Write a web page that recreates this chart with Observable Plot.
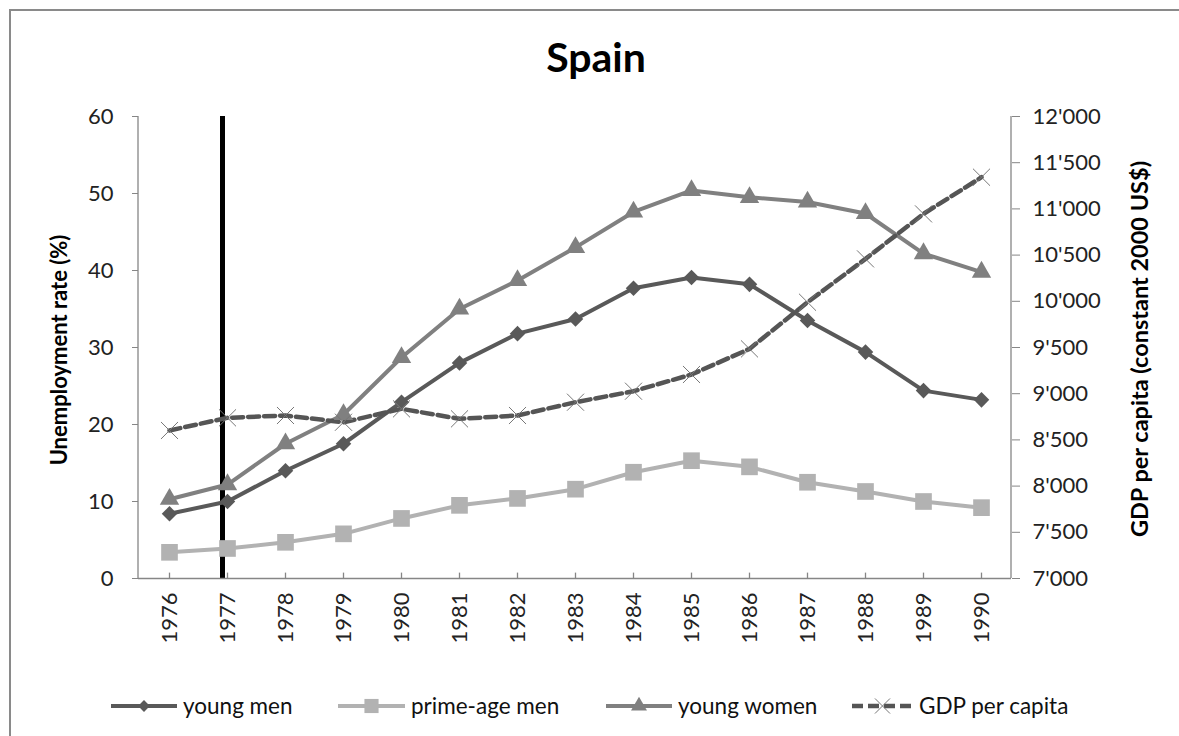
<!DOCTYPE html>
<html><head><meta charset="utf-8">
<script src="https://cdn.jsdelivr.net/npm/d3@7"></script>
<script src="https://cdn.jsdelivr.net/npm/@observablehq/plot@0.6"></script>
<style>
body{margin:0;background:#fff;font-family:Lato,"Open Sans",sans-serif}
#wrap{position:relative;width:1179px;height:736px;overflow:hidden;background:#fff}
#border{position:absolute;left:9px;top:9px;width:1300px;height:900px;border:2px solid #8a8a8a;box-sizing:border-box}
#chart{position:absolute;left:0;top:0}
.title{position:absolute;left:0;width:1192px;top:32px;text-align:center;font-weight:700;font-size:41px;color:#000}
.ylab{position:absolute;white-space:nowrap;font-weight:700;color:#000;transform:translate(-50%,-50%) rotate(-90deg)}
#legend{position:absolute;left:0;top:686px}
</style></head>
<body>
<div id="wrap">
  <div id="border"></div>
  <div id="chart"></div>
  <div class="title">Spain</div>
  <div class="ylab" style="left:58px;top:350px;font-size:22px">Unemployment rate (%)</div>
  <div class="ylab" style="left:1139px;top:349px;font-size:23.5px">GDP per capita (constant 2000 US$)</div>
  <svg id="legend" width="1179" height="40"></svg>
</div>
<script>
const years = [1976,1977,1978,1979,1980,1981,1982,1983,1984,1985,1986,1987,1988,1989,1990];
const youngMen = [8.4,10.0,14.0,17.5,22.9,28.0,31.8,33.7,37.7,39.1,38.2,33.5,29.4,24.4,23.2];
const primeAgeMen = [3.4,3.9,4.7,5.8,7.8,9.5,10.4,11.6,13.8,15.3,14.5,12.5,11.3,10.0,9.2];
const youngWomen = [10.3,12.2,17.5,21.3,28.7,35.0,38.7,43.0,47.6,50.4,49.5,48.9,47.4,42.2,39.8];
const gdpPerCapita = [8602,8739,8764,8691,8836,8728,8764,8908,9027,9208,9485,9990,10459,10946,11343];
const leftTicks = [0,10,20,30,40,50,60];
const rightTicks = [7000,7500,8000,8500,9000,9500,10000,10500,11000,11500,12000];
const markerYear = 1977;

const gMin = 7000, gMax = 12000, yMax = 60;
const toLeft = g => (g - gMin) / (gMax - gMin) * yMax;
const fmtG = n => `${Math.floor(n/1000)}'${String(n%1000).padStart(3,"0")}`;

const rows = (vals, f = v => v) => years.map((yr, i) => ({year: yr, v: f(vals[i])}));
const ym = rows(youngMen), pm = rows(primeAgeMen), yw = rows(youngWomen), gd = rows(gdpPerCapita, toLeft);

const C = {ym:"#595959", pm:"#b2b2b2", yw:"#808080", gd:"#555555", axis:"#868686"};
const FONT = "Lato, 'Open Sans', sans-serif";

const axisLines = (index, scales, values, dims) => {
  const g = d3.create("svg:g").attr("stroke", C.axis).attr("stroke-width", 1.3);
  const x0 = dims.marginLeft, x1 = dims.width - dims.marginRight;
  const y0 = dims.marginTop, y1 = dims.height - dims.marginBottom;
  g.append("line").attr("x1", x0).attr("x2", x0).attr("y1", y0).attr("y2", y1);
  g.append("line").attr("x1", x1).attr("x2", x1).attr("y1", y0).attr("y2", y1);
  return g.node();
};

const chart = Plot.plot({
  width: 1179, height: 736,
  marginLeft: 138, marginRight: 168, marginTop: 116, marginBottom: 158,
  style: {fontFamily: FONT, fontSize: "22px", color: "#222", background: "transparent"},
  x: {type: "point", domain: years, padding: 0.5},
  y: {domain: [0, yMax]},
  marks: [
    Plot.ruleX([markerYear], {x: d => d, y1: 0, y2: yMax, stroke: "#000", strokeWidth: 5, dx: -5}),
    Plot.ruleY([0], {stroke: C.axis, strokeWidth: 1.3}),
    axisLines,
    Plot.ruleX(years, {x: d => d, y1: 0, y2: 0.7, stroke: C.axis, strokeWidth: 1.3}),
    Plot.axisY({anchor: "left", ticks: leftTicks, tickSize: 6, tickPadding: 19, stroke: C.axis, label: null}),
    Plot.axisY({anchor: "right", ticks: rightTicks.map(toLeft), tickFormat: v => fmtG(Math.round(gMin + v / yMax * (gMax - gMin))), tickSize: 8, tickPadding: 13, stroke: C.axis, label: null}),
    Plot.axisX({anchor: "bottom", tickSize: 0, tickPadding: 14, tickRotate: -90, tickFormat: d => String(d), label: null}),
    Plot.line(ym, {x: "year", y: "v", stroke: C.ym, strokeWidth: 4}),
    Plot.line(pm, {x: "year", y: "v", stroke: C.pm, strokeWidth: 4}),
    Plot.line(yw, {x: "year", y: "v", stroke: C.yw, strokeWidth: 4}),
    Plot.line(gd, {x: "year", y: "v", stroke: C.gd, strokeWidth: 4.5, strokeDasharray: "11,5"}),
    Plot.dot(ym, {x: "year", y: "v", symbol: "square", r: 6.2, rotate: 45, fill: C.ym}),
    Plot.dot(pm, {x: "year", y: "v", symbol: "square", r: 9.4, fill: C.pm}),
    Plot.dot(yw, {x: "year", y: "v", symbol: "triangle", r: 7.2, fill: C.yw}),
    Plot.dot(gd, {x: "year", y: "v", symbol: "times", r: 7.8, stroke: "#777", strokeWidth: 1})
  ]
});
document.getElementById("chart").appendChild(chart);

// legend
const legendItems = [
  {label: "young men", x1: 111, x2: 177, color: C.ym, sym: "diamond"},
  {label: "prime-age men", x1: 338, x2: 405, color: C.pm, sym: "square"},
  {label: "young women", x1: 606, x2: 672, color: C.yw, sym: "triangle"},
  {label: "GDP per capita", x1: 852, x2: 913, color: C.gd, sym: "times", dash: true}
];
const lg = d3.select("#legend");
const ly = 20;
for (const it of legendItems) {
  lg.append("line").attr("x1", it.x1).attr("x2", it.x2).attr("y1", ly).attr("y2", ly)
    .attr("stroke", it.color).attr("stroke-width", it.dash ? 4.5 : 4)
    .attr("stroke-dasharray", it.dash ? "11,5" : null);
  const cx = (it.x1 + it.x2) / 2;
  if (it.sym === "diamond") lg.append("path").attr("d", d3.symbol(d3.symbolSquare, 70)()).attr("transform", `translate(${cx},${ly}) rotate(45)`).attr("fill", it.color);
  if (it.sym === "square") lg.append("path").attr("d", d3.symbol(d3.symbolSquare, 200)()).attr("transform", `translate(${cx},${ly})`).attr("fill", it.color);
  if (it.sym === "triangle") lg.append("path").attr("d", d3.symbol(d3.symbolTriangle, 110)()).attr("transform", `translate(${cx},${ly})`).attr("fill", it.color);
  if (it.sym === "times") lg.append("path").attr("d", d3.symbol(d3.symbolTimes, 150)()).attr("transform", `translate(${cx},${ly})`).attr("fill", "none").attr("stroke", "#777").attr("stroke-width", 1);
  lg.append("text").attr("x", it.x2 + 6).attr("y", ly).attr("dy", "0.35em")
    .attr("font-size", 22.5).attr("font-family", FONT).attr("fill", "#111").text(it.label);
}
</script>
</body></html>
